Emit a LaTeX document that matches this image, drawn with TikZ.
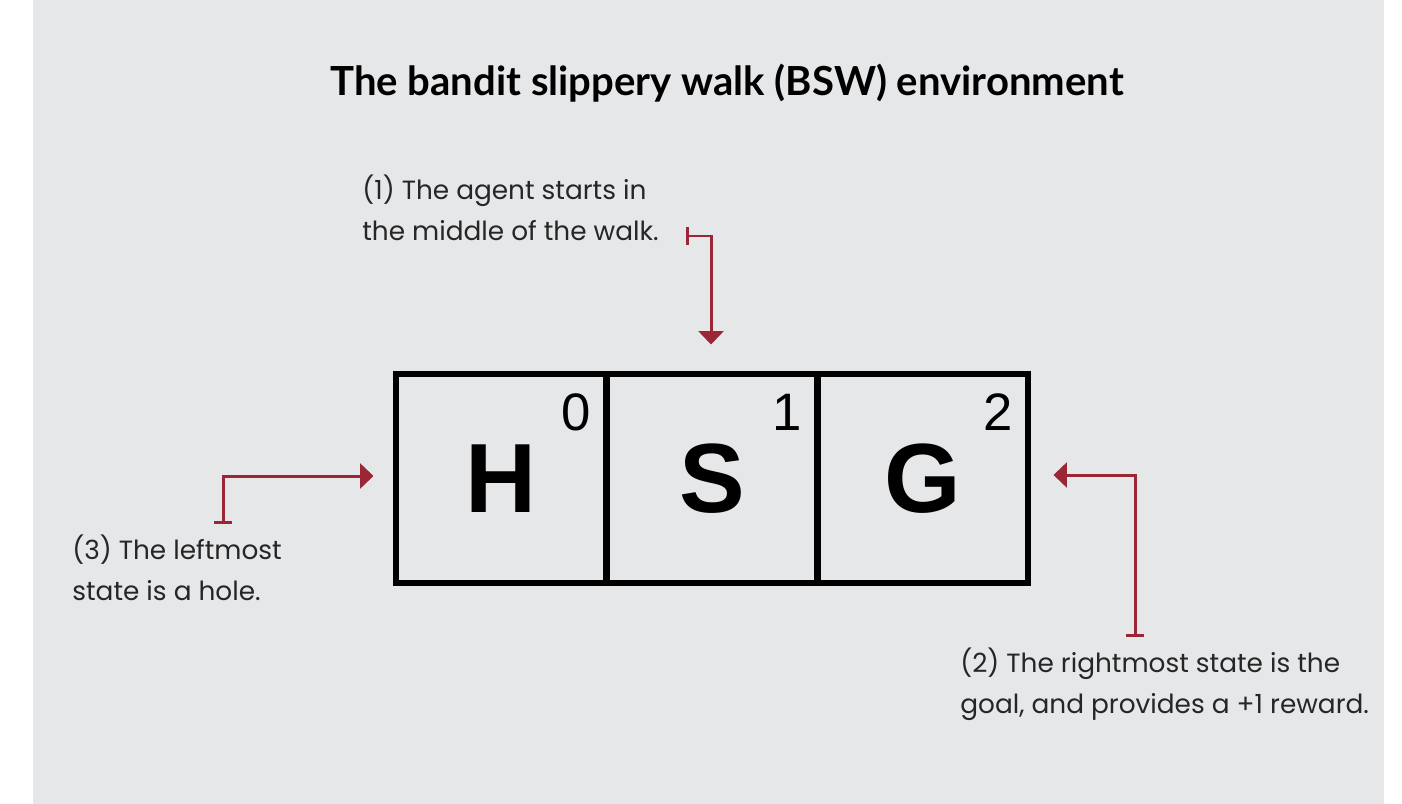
\documentclass[tikz,border=0pt]{standalone}
\usepackage{fontspec}
\setmainfont{Liberation Sans}
\newfontfamily\titlefont{Lato}
\newfontfamily\handfont{Poppins}
\usetikzlibrary{arrows.meta,positioning,calc}
\definecolor{panelgray}{HTML}{E6E7E9}
\definecolor{notered}{HTML}{9B2636}

\begin{document}
\begin{tikzpicture}[x=0.02cm,y=-0.02cm,>=Latex,
    cell/.style={draw, line width=0.12cm, minimum width=4.22cm, minimum height=4.18cm,
        inner sep=0pt, outer sep=0pt, font=\fontsize{56}{60}\selectfont\bfseries},
    idx/.style={font=\fontsize{30}{32}\selectfont, inner sep=0pt},
    note/.style={font=\handfont\fontsize{15}{22.8}\selectfont, align=left,
        anchor=base west, inner sep=0pt, text=black!85},
    callout/.style={notered, line width=0.06cm,
        {Bar[width=0.36cm]}-{Triangle[length=0.27cm,width=0.5cm]}}]
    \useasboundingbox (0,0) rectangle (1402,804);
    \fill[panelgray] (33,0) rectangle (1384,804);

    % Title
    \node[font=\titlefont\fontsize{22.8}{26}\selectfont\bfseries] (title) at (727,83)
        {The bandit slippery walk (BSW) environment};

    % The three states of the walk
    \foreach \lab/\num in {H/0,S/1,G/2} {
        \node[cell] (cell\num) at (501+211*\num,478.5) {\lab};
        \node[idx] (idx\num) at ($(cell\num.north east)+(-30,38)$) {\num};
    }

    % Notes (anchored on the baseline of their last line)
    \node[note] (note1) at (362,240) {(1) The agent starts in\\the middle of the walk.};
    \node[note] (note3) at (72,600) {(3) The leftmost\\state is a hole.};
    \node[note] (note2) at (960,713) {(2) The rightmost state is the\\goal, and provides a +1 reward.};

    \coordinate (tee1) at (686,236);
    \coordinate (tee3) at (223,524);
    \coordinate (tee2) at (1135,637);
    \draw[callout] (tee1) -| ($(cell1.north)+(-1,-29.5)$);
    \draw[callout] (tee3) |- ($(cell0.west)+(-22,-2.5)$);
    \draw[callout] (tee2) |- ($(cell2.east)+(25,-3.5)$);
\end{tikzpicture}
\end{document}
